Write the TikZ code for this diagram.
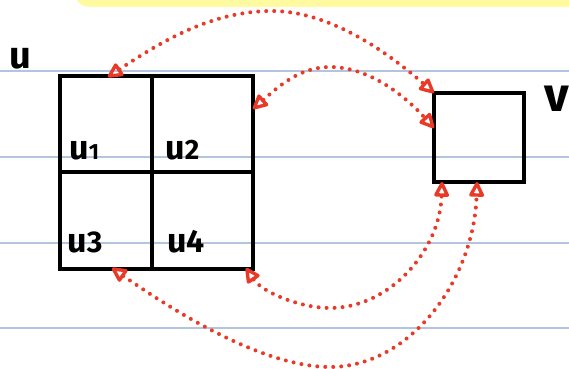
\documentclass[tikz,border=0pt]{standalone}
\usepackage{fontspec}
\setmainfont{Fira Sans}
\usetikzlibrary{arrows.meta}
\definecolor{penred}{RGB}{233,58,40}
\definecolor{rulecol}{RGB}{178,196,222}
\definecolor{hilite}{RGB}{255,250,160}
\begin{document}
\begin{tikzpicture}[x=0.5pt,y=-0.5pt,
  ruleline/.style={rulecol, line width=0.75pt},
  boxline/.style={black, line width=2pt, line join=miter},
  lab/.style={inner sep=0pt, anchor=base west, font=\fontsize{17}{17}\selectfont\bfseries},
  biglab/.style={inner sep=0pt, anchor=base west, font=\fontsize{19}{19}\selectfont\bfseries},
  redtip/.tip={Triangle[open,length=8.5pt,width=8pt,round,line width=1.7pt]},
  dotarrow/.style={penred, line width=2pt, line cap=round, dash pattern=on 0pt off 4pt,
    redtip-redtip}]
\useasboundingbox (0,0) rectangle (569,369);
% highlight and ruled lines
\fill[hilite, rounded corners=8pt] (74,-20) rectangle (600,7);
\draw[ruleline] (0,71) -- (569,71);
\draw[ruleline] (0,157) -- (569,157);
\draw[ruleline] (0,243) -- (569,243);
\draw[ruleline] (0,328) -- (569,328);
% boxes
\coordinate (U) at (60,76);
\coordinate (Ubr) at (253,269);
\draw[boxline] (U) rectangle (Ubr);
\draw[boxline] (152,76) -- (152,269);
\draw[boxline] (60,172) -- (253,172);
\coordinate (V) at (434,93);
\coordinate (Vbr) at (524,182);
\draw[boxline] (V) rectangle (Vbr);
% labels
\node[biglab] (lu) at (9,69) {u};
\node[biglab, font=\fontsize{24}{24}\selectfont\bfseries] (lv) at (544,112) {v};
\node[lab] (l1) at (69,160) {u{\fontsize{11}{11}\selectfont 1}};
\node[lab] (l2) at (165,160) {u{\fontsize{14}{14}\selectfont 2}};
\node[lab] (l3) at (67,253) {u{\fontsize{15}{15}\selectfont 3}};
\node[lab] (l4) at (167,253) {u{\fontsize{16}{16}\selectfont 4}};
% arrow end points
\coordinate (a1s) at (108,77);
\coordinate (a1e) at (434,93);
\coordinate (a2s) at (253,109);
\coordinate (a2e) at (434,128);
\coordinate (a3s) at (112,268);
\coordinate (a3e) at (477,182);
\coordinate (a4s) at (246,268);
\coordinate (a4e) at (442,182);
% dotted arrows
\draw[dotarrow] (a1s) .. controls (162,41) and (212,11) .. (272,11)
  .. controls (332,11) and (392,56) .. (a1e);
\draw[dotarrow] (a2s) .. controls (279,86) and (300,67) .. (330,67)
  .. controls (370,67) and (406,97) .. (a2e);
\draw[dotarrow] (a3s) .. controls (168,307) and (260,367) .. (330,367)
  .. controls (410,367) and (474,280) .. (a3e);
\draw[dotarrow] (a4s) .. controls (262,292) and (300,308) .. (330,308)
  .. controls (390,308) and (440,250) .. (a4e);
\end{tikzpicture}
\end{document}
